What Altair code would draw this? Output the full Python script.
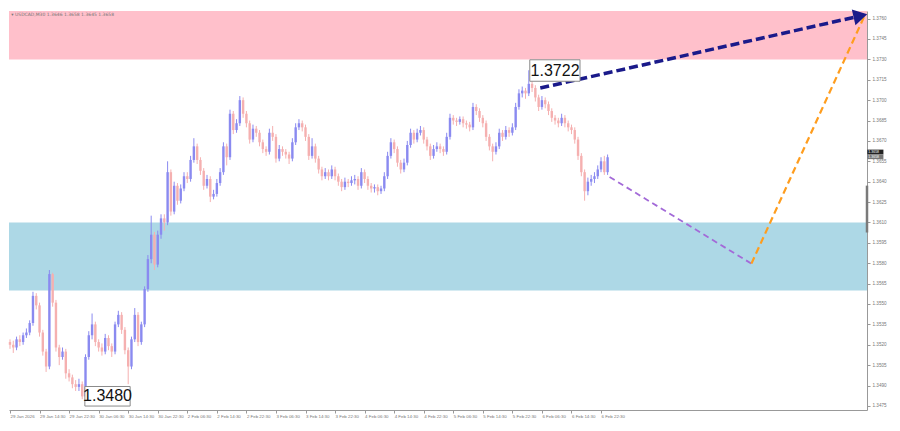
import altair as alt
import pandas as pd

# ---- data (USDCAD, M30) ----
first_open = 1.3522
closes = [1.3520, 1.3518, 1.3524, 1.3522, 1.3527, 1.3529, 1.3536, 1.3556, 1.3549, 1.3529,
          1.3515, 1.3504, 1.3572, 1.3551, 1.3518, 1.3511, 1.3515, 1.3499, 1.3496, 1.3491,
          1.3489, 1.3491, 1.3482, 1.3511, 1.3527, 1.3535, 1.3522, 1.3518, 1.3515, 1.3525,
          1.3519, 1.3515, 1.3535, 1.3542, 1.3531, 1.3516, 1.3504, 1.3524, 1.3542, 1.3522,
          1.3535, 1.3561, 1.3583, 1.3601, 1.3579, 1.3601, 1.3613, 1.3610, 1.3647, 1.3618,
          1.3637, 1.3626, 1.3635, 1.3644, 1.3642, 1.3656, 1.3666, 1.3656, 1.3648, 1.3637,
          1.3642, 1.3629, 1.3631, 1.3639, 1.3647, 1.3666, 1.3658, 1.3690, 1.3678, 1.3683,
          1.3700, 1.3690, 1.3683, 1.3671, 1.3679, 1.3676, 1.3669, 1.3664, 1.3662, 1.3676,
          1.3673, 1.3657, 1.3664, 1.3662, 1.3660, 1.3657, 1.3669, 1.3680, 1.3683, 1.3680,
          1.3673, 1.3659, 1.3666, 1.3657, 1.3649, 1.3644, 1.3647, 1.3644, 1.3649, 1.3644,
          1.3640, 1.3636, 1.3640, 1.3639, 1.3641, 1.3642, 1.3637, 1.3647, 1.3642, 1.3637,
          1.3635, 1.3636, 1.3633, 1.3635, 1.3644, 1.3659, 1.3669, 1.3664, 1.3654, 1.3649,
          1.3654, 1.3667, 1.3676, 1.3671, 1.3676, 1.3678, 1.3671, 1.3666, 1.3659, 1.3664,
          1.3666, 1.3664, 1.3662, 1.3673, 1.3687, 1.3685, 1.3684, 1.3686, 1.3683, 1.3682,
          1.3680, 1.3695, 1.3692, 1.3687, 1.3683, 1.3673, 1.3666, 1.3662, 1.3666, 1.3676,
          1.3673, 1.3678, 1.3676, 1.3680, 1.3695, 1.3705, 1.3707, 1.3705, 1.3712, 1.3709,
          1.3702, 1.3695, 1.3700, 1.3697, 1.3692, 1.3687, 1.3685, 1.3683, 1.3687, 1.3683,
          1.3680, 1.3678, 1.3671, 1.3659, 1.3647, 1.3633, 1.3640, 1.3642, 1.3644, 1.3649,
          1.3655, 1.3647, 1.3658]
highs = [1.3524, 1.3523, 1.3526, 1.3527, 1.3529, 1.3532, 1.3538, 1.3559, 1.3558, 1.3551,
         1.3531, 1.3517, 1.3575, 1.3573, 1.3553, 1.3520, 1.3518, 1.3517, 1.3502, 1.3498,
         1.3494, 1.3495, 1.3493, 1.3513, 1.3530, 1.3543, 1.3537, 1.3524, 1.3521, 1.3528,
         1.3527, 1.3521, 1.3537, 1.3545, 1.3544, 1.3533, 1.3518, 1.3526, 1.3547, 1.3544,
         1.3537, 1.3563, 1.3586, 1.3615, 1.3603, 1.3604, 1.3616, 1.3616, 1.3655, 1.3649,
         1.3640, 1.3639, 1.3638, 1.3647, 1.3647, 1.3659, 1.3672, 1.3668, 1.3658, 1.3650,
         1.3645, 1.3644, 1.3634, 1.3642, 1.3650, 1.3669, 1.3668, 1.3693, 1.3692, 1.3686,
         1.3703, 1.3702, 1.3692, 1.3685, 1.3682, 1.3681, 1.3678, 1.3671, 1.3666, 1.3679,
         1.3681, 1.3675, 1.3667, 1.3666, 1.3664, 1.3662, 1.3672, 1.3683, 1.3686, 1.3685,
         1.3682, 1.3675, 1.3672, 1.3668, 1.3659, 1.3651, 1.3650, 1.3649, 1.3652, 1.3651,
         1.3646, 1.3642, 1.3643, 1.3642, 1.3644, 1.3645, 1.3644, 1.3650, 1.3649, 1.3644,
         1.3639, 1.3638, 1.3638, 1.3637, 1.3647, 1.3662, 1.3672, 1.3671, 1.3666, 1.3656,
         1.3657, 1.3670, 1.3679, 1.3678, 1.3679, 1.3681, 1.3680, 1.3673, 1.3668, 1.3667,
         1.3669, 1.3668, 1.3666, 1.3676, 1.3690, 1.3689, 1.3687, 1.3688, 1.3688, 1.3685,
         1.3684, 1.3698, 1.3697, 1.3694, 1.3689, 1.3685, 1.3675, 1.3668, 1.3669, 1.3679,
         1.3678, 1.3681, 1.3680, 1.3683, 1.3698, 1.3708, 1.3710, 1.3709, 1.3722, 1.3714,
         1.3711, 1.3704, 1.3703, 1.3702, 1.3699, 1.3694, 1.3689, 1.3687, 1.3690, 1.3689,
         1.3685, 1.3682, 1.3680, 1.3673, 1.3661, 1.3649, 1.3643, 1.3645, 1.3647, 1.3652,
         1.3658, 1.3659, 1.3660]
lows = [1.3517, 1.3514, 1.3516, 1.3519, 1.3520, 1.3525, 1.3527, 1.3534, 1.3546, 1.3526,
        1.3512, 1.3500, 1.3502, 1.3548, 1.3515, 1.3505, 1.3509, 1.3495, 1.3493, 1.3488,
        1.3486, 1.3486, 1.3480, 1.3481, 1.3509, 1.3524, 1.3519, 1.3515, 1.3512, 1.3513,
        1.3516, 1.3511, 1.3513, 1.3533, 1.3528, 1.3513, 1.3491, 1.3502, 1.3522, 1.3519,
        1.3520, 1.3533, 1.3559, 1.3580, 1.3575, 1.3577, 1.3598, 1.3604, 1.3608, 1.3615,
        1.3616, 1.3623, 1.3624, 1.3633, 1.3639, 1.3640, 1.3654, 1.3653, 1.3645, 1.3634,
        1.3635, 1.3625, 1.3627, 1.3629, 1.3637, 1.3645, 1.3652, 1.3656, 1.3675, 1.3676,
        1.3681, 1.3687, 1.3680, 1.3668, 1.3669, 1.3673, 1.3666, 1.3661, 1.3659, 1.3660,
        1.3670, 1.3654, 1.3655, 1.3659, 1.3657, 1.3653, 1.3655, 1.3667, 1.3678, 1.3677,
        1.3670, 1.3656, 1.3657, 1.3654, 1.3646, 1.3641, 1.3642, 1.3641, 1.3642, 1.3641,
        1.3637, 1.3633, 1.3634, 1.3636, 1.3637, 1.3638, 1.3634, 1.3635, 1.3639, 1.3634,
        1.3632, 1.3632, 1.3630, 1.3631, 1.3633, 1.3642, 1.3657, 1.3661, 1.3651, 1.3646,
        1.3647, 1.3652, 1.3665, 1.3668, 1.3669, 1.3674, 1.3668, 1.3663, 1.3656, 1.3657,
        1.3662, 1.3661, 1.3659, 1.3660, 1.3671, 1.3682, 1.3681, 1.3682, 1.3680, 1.3679,
        1.3677, 1.3678, 1.3689, 1.3684, 1.3680, 1.3670, 1.3663, 1.3655, 1.3660, 1.3664,
        1.3670, 1.3671, 1.3673, 1.3674, 1.3678, 1.3693, 1.3702, 1.3701, 1.3703, 1.3706,
        1.3699, 1.3692, 1.3693, 1.3694, 1.3689, 1.3684, 1.3682, 1.3680, 1.3681, 1.3680,
        1.3677, 1.3675, 1.3668, 1.3656, 1.3644, 1.3626, 1.3630, 1.3637, 1.3639, 1.3642,
        1.3647, 1.3645, 1.3645]

x_labels = ["29 Jan 2026", "29 Jan 14:30", "29 Jan 22:30", "30 Jan 06:30", "30 Jan 14:30",
            "30 Jan 22:30", "2 Feb 06:30", "2 Feb 14:30", "2 Feb 22:30", "3 Feb 06:30",
            "3 Feb 14:30", "3 Feb 22:30", "4 Feb 06:30", "4 Feb 14:30", "4 Feb 22:30",
            "5 Feb 06:30", "5 Feb 14:30", "5 Feb 22:30", "6 Feb 06:30", "6 Feb 14:30",
            "6 Feb 22:30"]
x_label_bars = [0, 9, 18, 27, 36, 45, 54, 63, 72, 81, 90, 99, 108, 117, 126, 135, 144,
                153, 162, 171, 180]
y_ticks = [1.3475, 1.3490, 1.3505, 1.3520, 1.3535, 1.3550, 1.3565, 1.3580, 1.3595, 1.3610,
           1.3625, 1.3640, 1.3655, 1.3670, 1.3685, 1.3700, 1.3715, 1.3730, 1.3745, 1.3760]

# zones
zone_lo = [1.3730, 1.3560]
zone_hi = [1.37656, 1.3610]
zone_col = ["#ffc0cb", "#add8e6"]

# forecast paths (bar index, price)
navy_x = [161.5, 259.0]
navy_y = [1.37089, 1.37620]
purple_x = [182.6, 225.8]
purple_y = [1.36435, 1.35797]
orange_x = [225.8, 260.1]
orange_y = [1.35797, 1.37613]

title_text = "\u25be USDCAD,M30  1.3646 1.3658 1.3645 1.3658"
last_price = "1.3658"

# ---- build ----
X_DOM = [-0.3, 261.0]
Y_DOM = [1.3472, 1.37656]
xs = alt.Scale(domain=X_DOM, nice=False, zero=False)
ys = alt.Scale(domain=Y_DOM, nice=False, zero=False)

opens = [first_open] + closes[:-1]
df = pd.DataFrame({
    "idx": list(range(len(closes))),
    "o": opens, "h": highs, "l": lows, "c": closes,
})
df["dir"] = ["up" if c >= o else "down" for o, c in zip(df["o"], df["c"])]

label_js = "[" + ",".join("'" + s + "'" for s in x_labels) + "]"

x_axis = alt.Axis(values=x_label_bars, labelExpr=label_js + "[round(datum.value/9)]",
                  title=None, grid=False, labelFontSize=4.4, labelColor="#777",
                  tickColor="#999", domainColor="#999", labelAlign="left", tickSize=3,
                  labelPadding=1, labelFont="Liberation Sans", labelFlush=False,
                  labelOverlap=False, labelBound=False)
y_axis = alt.Axis(values=y_ticks, format=".4f", orient="right", title=None, grid=False,
                  labelFontSize=4.6, labelColor="#777", tickColor="#999", domainColor="#999",
                  tickSize=3, labelPadding=2, labelFont="Liberation Sans",
                  labelOverlap=False, labelBound=False, labelFlush=False)


def X(f):
    return alt.X(f, scale=xs, axis=x_axis)


def Y(f):
    return alt.Y(f, scale=ys, axis=y_axis)


zones = pd.DataFrame({"x": [X_DOM[0]] * 2, "x2": [X_DOM[1]] * 2,
                      "y": zone_lo, "y2": zone_hi, "col": zone_col})
zone_layer = alt.Chart(zones).mark_rect().encode(
    x=X("x:Q"), x2="x2:Q", y=Y("y:Q"), y2="y2:Q",
    color=alt.Color("col:N", scale=None),
)

wicks = alt.Chart(df).mark_rule(strokeWidth=1).encode(
    x=X("idx:Q"), y=Y("l:Q"), y2="h:Q",
    color=alt.Color("dir:N", scale=alt.Scale(domain=["up", "down"],
                                             range=["#8a8af0", "#f5b0b0"]), legend=None),
)
bodies = alt.Chart(df).mark_rule(strokeWidth=2.4).encode(
    x=X("idx:Q"), y=Y("o:Q"), y2="c:Q",
    color=alt.Color("dir:N", scale=alt.Scale(domain=["up", "down"],
                                             range=["#0808e6", "#ec8585"]), legend=None),
)


def path(xv, yv, color, width, dash):
    d = pd.DataFrame({"x": xv, "y": yv})
    return alt.Chart(d).mark_line(color=color, strokeWidth=width, strokeDash=dash).encode(
        x=X("x:Q"), y=Y("y:Q"))


purple = path(purple_x, purple_y, "#a36ad8", 1.8, [6, 4])
orange = path(orange_x, orange_y, "#ff9d1e", 2.2, [7, 4])
navy = path(navy_x, navy_y, "#1a1a8a", 3.5, [9, 4])

head = alt.Chart(pd.DataFrame({"x": [navy_x[1]], "y": [navy_y[1]]})).mark_point(
    shape="triangle-right", filled=True, size=260, color="#1a1a8a", opacity=1,
    angle=347).encode(x=X("x:Q"), y=Y("y:Q"))

# price labels (boxes)
boxes = pd.DataFrame({
    "x": [158.3, 22.8], "x2": [173.6, 36.6],
    "y": [1.37139, 1.34749], "y2": [1.37297, 1.34893],
    "tx": [166.0, 29.7], "ty": [1.37218, 1.34821], "t": ["1.3722", "1.3480"],
})
box_layer = alt.Chart(boxes).mark_rect(fill="white", stroke="#8a8a8a", strokeWidth=1).encode(
    x=X("x:Q"), x2="x2:Q", y=Y("y:Q"), y2="y2:Q")
box_text = alt.Chart(boxes).mark_text(font="Liberation Sans", fontSize=16, color="#111",
                                      align="center", baseline="middle").encode(
    x=X("tx:Q"), y=Y("ty:Q"), text="t:N")

title_layer = alt.Chart(pd.DataFrame({"x": [0.4], "y": [1.37650], "t": [title_text]})).mark_text(
    font="DejaVu Sans", fontSize=4.5, color="#777", align="left", baseline="top").encode(
    x=X("x:Q"), y=Y("y:Q"), text="t:N")

# current price tag on the axis and axis range bar
tag = pd.DataFrame({"x": [261.1, 261.1], "x2": [266.0, 266.0],
                    "y": [1.36601, 1.36566], "y2": [1.36636, 1.36601],
                    "col": ["#222222", "#777777"], "t": [last_price, last_price],
                    "ty": [1.36618, 1.36583]})
tag_rect = alt.Chart(tag).mark_rect().encode(
    x=X("x:Q"), x2="x2:Q", y=Y("y:Q"), y2="y2:Q",
    color=alt.Color("col:N", scale=None))
tag_text = alt.Chart(tag).mark_text(fontSize=3.5, color="white", align="left",
                                    baseline="middle", dx=1).encode(
    x=X("x:Q"), y=Y("ty:Q"), text="t:N")
range_bar = alt.Chart(pd.DataFrame({"x": [X_DOM[1]], "y": [1.36026], "y2": [1.36371]})).mark_rule(
    color="#7a7a7a", strokeWidth=2.5).encode(
    x=X("x:Q"), y=Y("y:Q"), y2="y2:Q")

chart = alt.layer(
    zone_layer, wicks, bodies, purple, orange, navy, head,
    box_layer, box_text, title_layer, range_bar, tag_rect, tag_text,
).properties(width=858, height=399, padding=0, background="white").configure_view(
    stroke=None).configure_axis(labelOverlap=False)

chart.save("out.html", embed_options={"renderer": "svg", "actions": False})
